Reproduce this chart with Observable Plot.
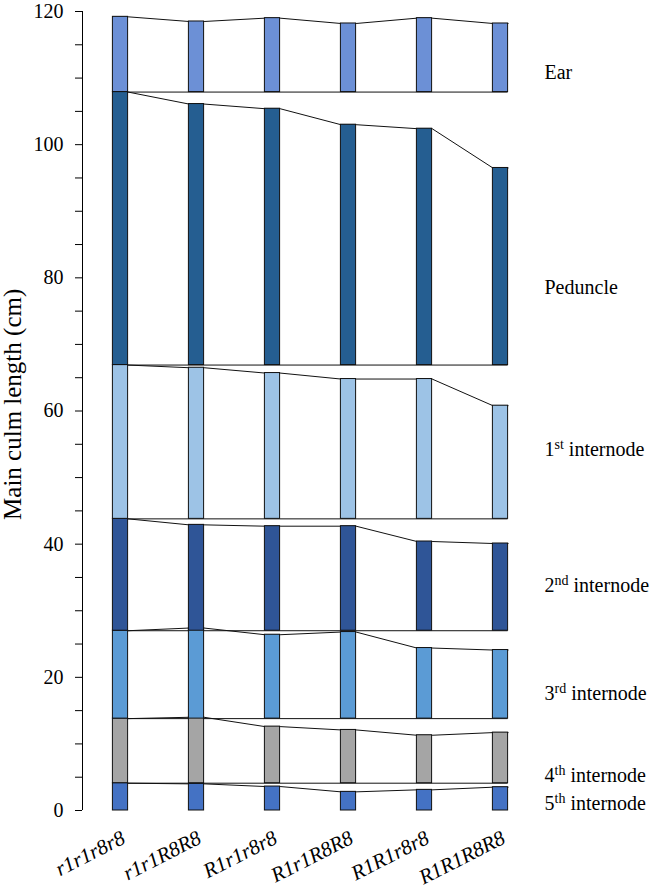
<!DOCTYPE html>
<html>
<head>
<meta charset="utf-8">
<script src="https://cdn.jsdelivr.net/npm/d3@7"></script>
<script src="https://cdn.jsdelivr.net/npm/@observablehq/plot@0.6"></script>
<style>
  body { margin: 0; background: white; font-family: "Liberation Serif", serif; }
  #chart svg { display: block; overflow: visible; }
  svg, svg text, svg tspan, svg g { font-family: "Liberation Serif", serif !important; }
</style>
</head>
<body>
<div id="chart"></div>
<script>
// ---- Data ----
const genotypes = ["r1r1r8r8", "r1r1R8R8", "R1r1r8r8", "R1r1R8R8", "R1R1r8r8", "R1R1R8R8"];
const segmentNames = ["5th internode", "4th internode", "3rd internode", "2nd internode", "1st internode", "Peduncle", "Ear"];
// lengths in cm, per genotype
const fifth    = [4.1, 4.0, 3.6, 2.8, 3.1, 3.5];
const fourth   = [9.7, 9.9, 8.5, 8.0, 7.2, 7.6];
const third    = [13.2, 13.6, 12.6, 13.0, 10.6, 10.3];
const second   = [16.8, 15.9, 15.7, 15.7, 13.4, 13.1];
const first    = [23.1, 22.7, 21.9, 21.0, 21.0, 17.0];
const peduncle = [41.0, 39.2, 38.5, 36.1, 35.5, 29.6];
const ear      = [11.3, 10.6, 11.1, 10.3, 11.1, 10.3];
const yTicks = d3.range(0, 121, 5);

// ---- Styling / layout ----
const FONT = "Liberation Serif";
const segmentColors = ["#4472C4", "#A5A5A5", "#5B9BD5", "#2F5597", "#9DC3E6", "#255E91", "#6C90D6"];
const labelAnchorY = [1.0, 5.2, 17.6, 33.8, 54.2, 78.6, 110.8]; // where the right-hand names sit
const hw = 0.1; // half bar width in category units

const series = [fifth, fourth, third, second, first, peduncle, ear];

// Each segment starts from the cumulative height of the first genotype
const bases = [];
let acc = 0;
series.forEach((s, k) => { bases.push(acc); acc += s[0]; });

const bars = [];
const tops = [];
series.forEach((s, k) => {
  s.forEach((v, i) => {
    bars.push({seg: segmentNames[k], i, y1: bases[k], y2: bases[k] + v});
    tops.push({seg: segmentNames[k], x: i - hw, y: bases[k] + v});
    tops.push({seg: segmentNames[k], x: i + hw, y: bases[k] + v});
  });
});
const baseLines = bases.slice(1).map((b, k) => ({y: b}));
const labels = segmentNames.map((name, k) => ({name, y: labelAnchorY[k]}));

const plot = Plot.plot({
  width: 656,
  height: 893,
  marginLeft: 82,
  marginRight: 118,
  marginTop: 11,
  marginBottom: 83,
  style: {fontFamily: FONT, fontSize: "19px", background: "white", overflow: "visible", color: "black"},
  x: {domain: [-0.5, 5.5]},
  y: {domain: [0, 120]},
  color: {domain: segmentNames, range: segmentColors},
  marks: [
    Plot.ruleY(baseLines, {y: "y", x1: -hw, x2: 5 + hw, stroke: "#111", strokeWidth: 1}),
    Plot.line(tops, {x: "x", y: "y", z: "seg", stroke: "#111", strokeWidth: 1}),
    Plot.rect(bars, {x1: d => d.i - hw, x2: d => d.i + hw, y1: "y1", y2: "y2", fill: "seg", stroke: "#111", strokeWidth: 1}),
    Plot.ruleX([-0.5], {y1: 0, y2: 120, stroke: "black"}),
    Plot.axisY({ticks: yTicks, tickFormat: d => d % 20 === 0 ? d : "", tickSize: 7, tickPadding: 12, fontSize: 20, fontFamily: FONT, label: null, stroke: "black"}),
    Plot.axisX({ticks: d3.range(genotypes.length), tickFormat: i => genotypes[i], tickRotate: -27, tickSize: 0, tickPadding: 26, dx: 3, fontSize: 21, fontFamily: FONT, fontStyle: "italic", label: null}),
    Plot.text(["Main culm length (cm)"], {x: -0.5, y: 61, dx: -70, rotate: -90, fontSize: 25, fontFamily: FONT, textAnchor: "middle", lineAnchor: "middle"}),
    Plot.text(labels, {x: 5.5, y: "y", dx: 6, text: "name", textAnchor: "start", lineAnchor: "middle", fontSize: 20, fontFamily: FONT})
  ]
});

// Serif font everywhere
plot.setAttribute("font-family", FONT);
d3.select(plot).selectAll("text").attr("font-family", FONT).style("font-family", FONT);

// Superscript ordinals on the right-hand labels
d3.select(plot).selectAll("text").each(function() {
  const t = this.textContent;
  const m = /^(\d)(st|nd|rd|th)( .*)$/.exec(t);
  if (m && !this.querySelector("tspan")) {
    const el = d3.select(this);
    el.text(null);
    el.append("tspan").text(m[1]);
    el.append("tspan").attr("baseline-shift", "super").attr("font-size", "70%").text(m[2]);
    el.append("tspan").text(m[3]);
  }
});
d3.select(plot).selectAll("[aria-label='x-axis tick label'] text").style("font-style", "italic");

document.getElementById("chart").appendChild(plot);
</script>
</body>
</html>
